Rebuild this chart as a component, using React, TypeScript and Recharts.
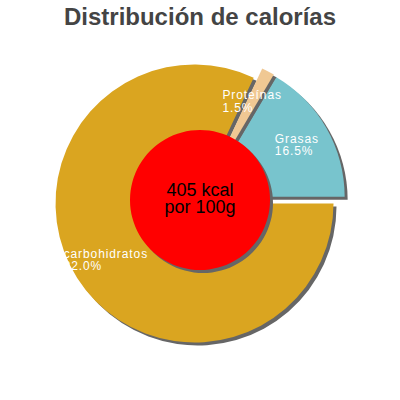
import React from "react";
import { PieChart, Pie, Cell } from "recharts";

const title = "Distribución de calorías";
const sliceNames = ["Grasas", "Proteínas", "carbohidratos"];
const slicePercents = [16.5, 1.5, 82.0];
const sliceColors = ["#78C4CD", "#F0C893", "#DAA520"];
const centerLines = ["405 kcal", "por 100g"];
const centerValue = [1];

const data = sliceNames.map((name, i) => ({ name, value: slicePercents[i] }));
const centerData = centerValue.map((v) => ({ name: "center", value: v }));
const total = slicePercents.reduce((a, b) => a + b, 0);
const mids = slicePercents.map((v, i) => {
  const before = slicePercents.slice(0, i).reduce((a, b) => a + b, 0);
  return ((before + v / 2) / total) * 360;
});

const CX = 200;
const CY = 200;
const R = 139;
const EXPLODE = 6.5;
const SHADOW = 3;
const LABEL_R = 105;
const RAD = Math.PI / 180;
const LABEL_FONT = 12;
const LABEL_SPACING = 0.9;

let ctx: CanvasRenderingContext2D | null = null;
function measure(t: string): number {
  if (!ctx) {
    const c = document.createElement("canvas");
    ctx = c.getContext("2d");
  }
  if (!ctx) return t.length * 7;
  ctx.font = `${LABEL_FONT}px Arial`;
  return ctx.measureText(t).width + LABEL_SPACING * t.length;
}

const sliceCenter = (i: number) => ({
  x: CX + EXPLODE * Math.cos(mids[i] * RAD),
  y: CY - EXPLODE * Math.sin(mids[i] * RAD),
});

const makeLabel = (i: number) => (props: any) => {
  if (props.index !== i) return <g />;
  const { cx, cy, midAngle } = props;
  const px = cx + LABEL_R * Math.cos(-midAngle * RAD);
  const py = cy + LABEL_R * Math.sin(-midAngle * RAD);
  const l1 = sliceNames[i];
  const l2 = `${slicePercents[i].toFixed(1)}%`;
  const w = Math.max(measure(l1), measure(l2));
  const x = px - w / 2;
  return (
    <text
      fill="#ffffff"
      fontSize={LABEL_FONT}
      fontFamily="Arial, 'Liberation Sans', sans-serif"
      letterSpacing={LABEL_SPACING}
      textAnchor="start"
    >
      <tspan x={x} y={py - 2}>{l1}</tspan>
      <tspan x={x} y={py + 10.5}>{l2}</tspan>
    </text>
  );
};

const centerLabel = (props: any) => {
  const { cx, cy } = props;
  return (
    <text
      fill="#000000"
      fontSize={18}
      fontFamily="Arial, 'Liberation Sans', sans-serif"
      textAnchor="middle"
    >
      <tspan x={cx} y={cy - 4}>{centerLines[0]}</tspan>
      <tspan x={cx} y={cy + 13}>{centerLines[1]}</tspan>
    </text>
  );
};

export default function App() {
  return (
    <div style={{ position: "absolute", left: 0, top: 0, width: 400, height: 400, background: "#fff" }}>
      <PieChart width={400} height={400} margin={{ top: 0, right: 0, bottom: 0, left: 0 }}>
        {sliceNames.map((_, i) => {
          const c = sliceCenter(i);
          return (
            <Pie
              key={`shadow-${i}`}
              data={data}
              dataKey="value"
              nameKey="name"
              cx={c.x + SHADOW}
              cy={c.y + SHADOW}
              innerRadius={0}
              outerRadius={R}
              startAngle={0}
              endAngle={360}
              stroke="none"
              isAnimationActive={false}
              labelLine={false}
              label={false}
            >
              {data.map((d, j) => (
                <Cell key={d.name} fill={j === i ? "#666666" : "none"} />
              ))}
            </Pie>
          );
        })}
        {sliceNames.map((_, i) => {
          const c = sliceCenter(i);
          return (
            <Pie
              key={`slice-${i}`}
              data={data}
              dataKey="value"
              nameKey="name"
              cx={c.x}
              cy={c.y}
              innerRadius={0}
              outerRadius={R}
              startAngle={0}
              endAngle={360}
              stroke="none"
              isAnimationActive={false}
              labelLine={false}
              label={makeLabel(i)}
            >
              {data.map((d, j) => (
                <Cell key={d.name} fill={j === i ? sliceColors[i] : "none"} />
              ))}
            </Pie>
          );
        })}
        <Pie
          data={centerData}
          dataKey="value"
          cx={CX + SHADOW}
          cy={CY + SHADOW}
          innerRadius={0}
          outerRadius={70}
          stroke="none"
          fill="#666666"
          isAnimationActive={false}
          labelLine={false}
          label={false}
        />
        <Pie
          data={centerData}
          dataKey="value"
          cx={CX}
          cy={CY}
          innerRadius={0}
          outerRadius={70}
          stroke="none"
          fill="#ff0000"
          isAnimationActive={false}
          labelLine={false}
          label={centerLabel}
        />
      </PieChart>
      <div
        style={{
          position: "absolute",
          left: 0,
          top: 2,
          width: 400,
          textAlign: "center",
          fontFamily: "Arial, 'Liberation Sans', sans-serif",
          fontWeight: "bold",
          fontSize: 24,
          lineHeight: "30px",
          color: "#444444",
        }}
      >
        {title}
      </div>
    </div>
  );
}
